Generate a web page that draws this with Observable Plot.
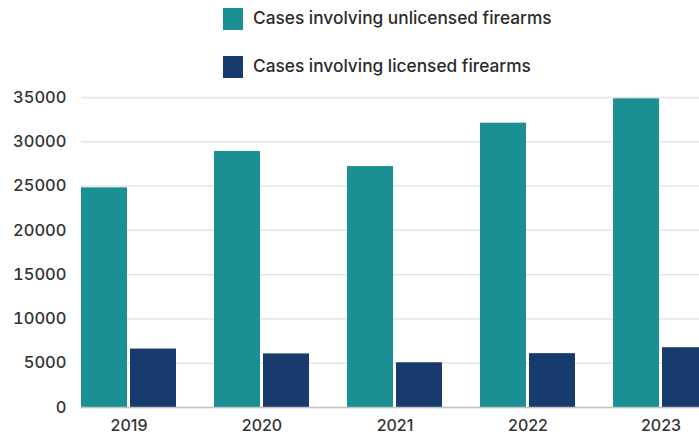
<!DOCTYPE html>
<html>
<head>
<meta charset="utf-8">
<script src="https://cdn.jsdelivr.net/npm/d3@7"></script>
<script src="https://cdn.jsdelivr.net/npm/@observablehq/plot@0.6"></script>
<style>
  html, body { margin: 0; padding: 0; background: #fff; overflow: hidden; width: 699px; height: 437px; }
  #wrap { position: relative; width: 699px; height: 437px; overflow: hidden; font-family: Inter, "Noto Sans", sans-serif; }
  #legend { position: relative; height: 80px; }
  .item { position: absolute; left: 223px; display: flex; align-items: center; }
  .sw { width: 20px; height: 22px; margin-right: 10px; }
  .lab { font-size: 17.3px; font-weight: 500; color: #2b2b2b; line-height: 22px; position: relative; top: -1px; }
  #chart svg { display: block; max-width: none !important; }
</style>
</head>
<body>
<div id="wrap">
  <div id="legend"></div>
  <div id="chart"></div>
</div>
<script>
const years = ["2019", "2020", "2021", "2022", "2023"];
const seriesNames = ["Cases involving unlicensed firearms", "Cases involving licensed firearms"];
const seriesColors = ["#1a9095", "#163b6c"];
const unlicensed = [24800, 28900, 27200, 32100, 34850];
const licensed = [6600, 6050, 5050, 6080, 6750];
const yTicks = [0, 5000, 10000, 15000, 20000, 25000, 30000, 35000];

const data = years.flatMap((year, i) => [
  {year, series: seriesNames[0], value: unlicensed[i]},
  {year, series: seriesNames[1], value: licensed[i]}
]);

// legend
const legend = document.getElementById("legend");
const tops = [8, 56];
seriesNames.forEach((name, i) => {
  const it = document.createElement("div");
  it.className = "item";
  it.style.top = tops[i] + "px";
  it.innerHTML = `<div class="sw" style="background:${seriesColors[i]}"></div><span class="lab">${name}</span>`;
  legend.appendChild(it);
});

const chart = Plot.plot({
  width: 708,
  height: 357,
  marginLeft: 81,
  marginRight: 0,
  marginTop: 17,
  marginBottom: 30,
  style: {fontFamily: "Inter, 'Noto Sans', sans-serif", fontSize: "16px", color: "#333", background: "#fff", maxWidth: "none"},
  x: {domain: years, paddingInner: 0.286, paddingOuter: 0, label: null},
  y: {domain: [0, 35000], label: null},
  color: {domain: seriesNames, range: seriesColors},
  marks: [
    Plot.gridY(yTicks, {stroke: "#e4e4e4", strokeOpacity: 1, strokeWidth: 1.5}),
    Plot.barY(data.filter(d => d.series === seriesNames[0]), {x: "year", y: "value", fill: "series", insetRight: 49}),
    Plot.barY(data.filter(d => d.series === seriesNames[1]), {x: "year", y: "value", fill: "series", insetLeft: 49}),
    Plot.ruleY([0], {stroke: "#c4c4c4", strokeWidth: 1.5}),
    Plot.axisY({ticks: yTicks, tickSize: 0, tickPadding: 15, tickFormat: d3.format("d"), fill: "#333", fontSize: 16.5, fontWeight: 500}),
    Plot.axisX({tickSize: 0, tickPadding: 12, fill: "#333", fontSize: 16, fontWeight: 500})
  ]
});
document.getElementById("chart").appendChild(chart);
</script>
</body>
</html>
